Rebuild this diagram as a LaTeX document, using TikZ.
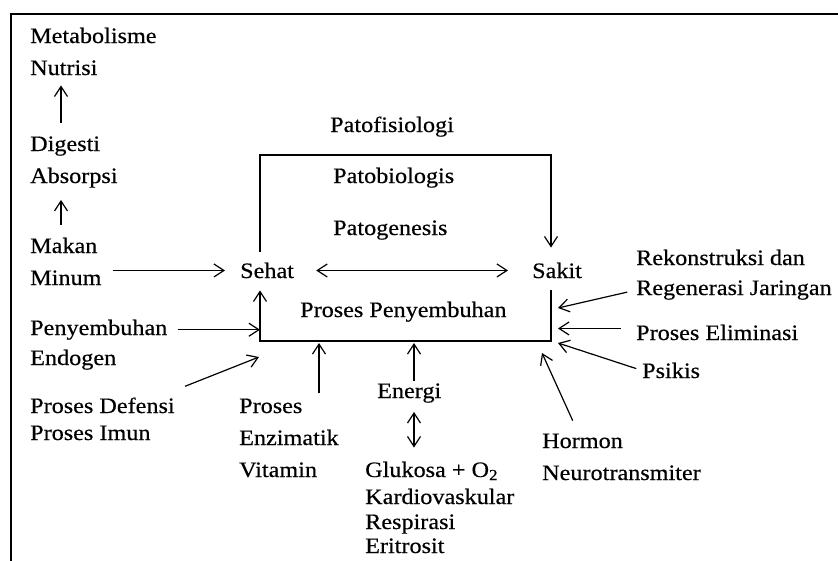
\documentclass[tikz,border=0pt]{standalone}
\usepackage{fontspec}
\setmainfont{Liberation Serif}[FakeStretch=1.1,FakeBold=0.4]
\usetikzlibrary{arrows.meta}
\begin{document}
\begin{tikzpicture}[x=1pt,y=-1pt,
  lbl/.style={anchor=base west, inner sep=0pt, font=\fontsize{22}{26}\selectfont},
  arr/.style={-{Straight Barb[length=10pt,width=13pt]}, line width=1.2pt},
  darr/.style={{Straight Barb[length=10pt,width=13pt]}-{Straight Barb[length=10pt,width=13pt]}, line width=1.2pt}]
\useasboundingbox (0,0) rectangle (838,560);
\clip (0,0) rectangle (838,560);
\fill[white] (0,0) rectangle (838,560);

% outer frame
\draw[line width=2pt] (11,575) -- (11,14) -- (850,14);

% left column
\node[lbl] (met)  at (30,43)  {Metabolisme};
\node[lbl] (nut)  at (30,75)  {Nutrisi};
\node[lbl] (dig)  at (30,151) {Digesti};
\node[lbl] (abs)  at (30,183) {Absorpsi};
\node[lbl] (mak)  at (30,253) {Makan};
\node[lbl] (min)  at (30,285) {Minum};
\node[lbl] (peny) at (30,335) {Penyembuhan};
\node[lbl] (endo) at (30,365) {Endogen};
\node[lbl] (def)  at (30,413) {Proses Defensi};
\node[lbl] (imun) at (30,440) {Proses Imun};

% bottom labels
\node[lbl] (pro)  at (239,413) {Proses};
\node[lbl] (enz)  at (239,445) {Enzimatik};
\node[lbl] (vit)  at (239,477) {Vitamin};
\node[lbl] (ene)  at (377,398) {Energi};
\node[lbl] (glu)  at (365,477) {Glukosa + O\textsubscript{2}};
\node[lbl] (kar)  at (365,504) {Kardiovaskular};
\node[lbl] (res)  at (365,529) {Respirasi};
\node[lbl] (eri)  at (365,553) {Eritrosit};
\node[lbl] (hor)  at (542,448) {Hormon};
\node[lbl] (neu)  at (542,480) {Neurotransmiter};

% right labels
\node[lbl] (rek)  at (636,265) {Rekonstruksi dan};
\node[lbl] (reg)  at (636,295) {Regenerasi Jaringan};
\node[lbl] (eli)  at (636,340) {Proses Eliminasi};
\node[lbl] (psi)  at (642,378) {Psikis};

% central states and processes
\node[lbl] (sehat) at (240,278) {Sehat};
\node[lbl] (sakit) at (532,278) {Sakit};
\node[lbl] (pfs)  at (330,132) {Patofisiologi};
\node[lbl] (pbio) at (333,183) {Patobiologis};
\node[lbl] (pgen) at (333,235) {Patogenesis};
\node[lbl] (pp)   at (300,317) {Proses Penyembuhan};

% box corners, guide column and arrow targets
\coordinate (tl) at (260,155);
\coordinate (br) at (551,341);
\coordinate (colA) at (61,0);
\coordinate (tDef) at (259,357);
\coordinate (tPro) at (319,343);
\coordinate (tEne) at (414,343);
\coordinate (tHor) at (542,353);
\coordinate (tPsi) at (558,343);
\coordinate (tEli) at (558,329);
\coordinate (tReg) at (558,308);

% digestion chain
\draw[arr, shorten <=13pt, shorten >=10pt] (dig.north -| colA) -- (nut.south -| colA);
\draw[arr, shorten <=13pt, shorten >=12pt] (mak.north -| colA) -- (abs.south -| colA);
\draw[arr, shorten <=11pt, shorten >=15pt] (min.east |- sehat.west) -- (sehat.west);

% health <-> illness
\draw[darr, shorten <=22pt, shorten >=24pt] (sehat.east) -- (sakit.west);
\draw[arr, shorten <=11pt, shorten >=15pt]
  (sehat.north -| tl) -- (tl) -- (tl -| br) -- (sakit.north -| br);
\draw[arr, shorten <=12pt, shorten >=12pt]
  (sakit.south -| br) -- (br) -- (br -| tl) -- (sehat.south -| tl);

% influences from the left and below
\draw[arr, shorten <=10pt] (peny.east) -- (peny.east -| tl);
\draw[arr, shorten <=11pt] ([yshift=7pt]def.north east) -- (tDef);
\draw[arr, shorten <=5pt] (tPro |- pro.north) -- (tPro);
\draw[arr, shorten <=2pt] (tEne |- ene.north) -- (tEne);
\draw[darr, shorten <=9pt, shorten >=14pt] (tEne |- ene.south) -- (tEne |- glu.north);
\draw[arr, shorten <=14pt] ([xshift=-4pt]hor.north) -- (tHor);

% influences from the right
\draw[arr, shorten <=6pt] (psi.west) -- (tPsi);
\draw[arr, shorten <=15pt] ([yshift=4pt]eli.west) -- ([yshift=4pt]eli.west -| tEli);
\draw[arr, shorten <=9pt] (reg.west) -- (tReg);
\end{tikzpicture}
\end{document}
